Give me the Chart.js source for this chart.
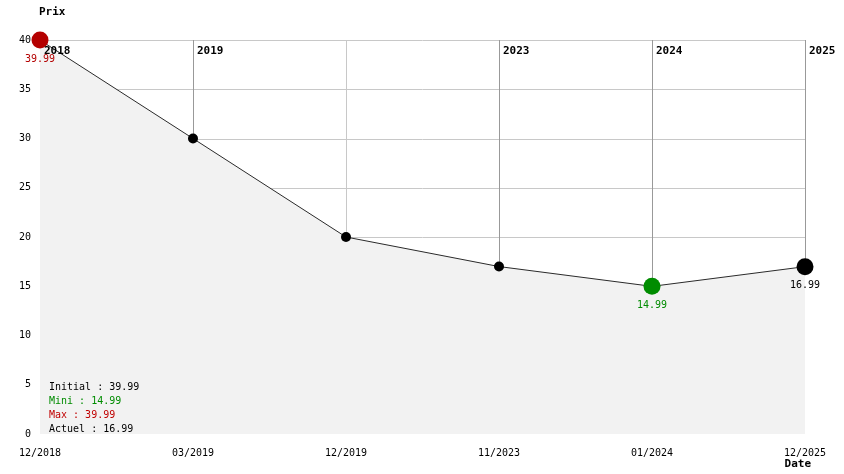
<!DOCTYPE html>
<html>
<head>
<meta charset="utf-8">
<script src="https://cdn.jsdelivr.net/npm/chart.js@4"></script>
<style>
  html, body { margin: 0; padding: 0; background: #fff; }
  #wrap { width: 844px; height: 474px; position: relative; }
</style>
</head>
<body>
<div id="wrap"><canvas id="priceChart"></canvas></div>
<script>
const dates = ['12/2018', '03/2019', '12/2019', '11/2023', '01/2024', '12/2025'];
const prices = [39.99, 30, 20, 17, 14.99, 16.99];
const yearMarks = ['2018', '2019', '', '2023', '2024', '2025'];
const pointLabels = ['39.99', '', '', '', '14.99', '16.99'];
const pointColors = ['#b40000', '#000000', '#000000', '#000000', '#008c00', '#000000'];
const pointSizes = [8.5, 5, 5, 5, 8.5, 8.5];
const summaryLines = ['Initial : 39.99', 'Mini : 14.99', 'Max : 39.99', 'Actuel : 16.99'];
const summaryColors = ['#000000', '#008c00', '#c00000', '#000000'];

const mono = 'DejaVu Sans Mono';

// grid only above the price line, the filled area stays plain
const gridAbove = {
    id: 'gridAbove',
    beforeDatasetsDraw(chart) {
        const ctx = chart.ctx;
        const x = chart.scales.x;
        const y = chart.scales.y;
        const area = chart.chartArea;
        const pts = chart.getDatasetMeta(0).data;
        ctx.save();
        ctx.beginPath();
        ctx.moveTo(area.left - 2, area.top - 2);
        ctx.lineTo(area.left - 2, pts[0].y);
        pts.forEach((p) => ctx.lineTo(p.x, p.y));
        ctx.lineTo(area.right + 2, pts[pts.length - 1].y);
        ctx.lineTo(area.right + 2, area.top - 2);
        ctx.closePath();
        ctx.clip();
        ctx.lineWidth = 1;
        y.ticks.forEach((t) => {
            const py = Math.round(y.getPixelForValue(t.value)) + 0.5;
            ctx.strokeStyle = '#c8c8c8';
            ctx.beginPath();
            ctx.moveTo(area.left, py);
            ctx.lineTo(area.right, py);
            ctx.stroke();
        });
        dates.forEach((d, i) => {
            const px = Math.round(x.getPixelForValue(i)) + 0.5;
            ctx.strokeStyle = yearMarks[i] ? '#999999' : '#c8c8c8';
            ctx.beginPath();
            ctx.moveTo(px, area.top);
            ctx.lineTo(px, area.bottom);
            ctx.stroke();
        });
        ctx.restore();
    }
};

const overlay = {
    id: 'overlay',
    afterDatasetsDraw(chart) {
        const ctx = chart.ctx;
        const x = chart.scales.x;
        const y = chart.scales.y;
        const area = chart.chartArea;
        ctx.save();

        // year markers near the top of the plot
        ctx.font = 'bold 11px ' + mono;
        ctx.fillStyle = '#000';
        ctx.textAlign = 'left';
        ctx.textBaseline = 'middle';
        yearMarks.forEach((t, i) => {
            if (t) ctx.fillText(t, x.getPixelForValue(i) + 4, area.top + 11);
        });

        // values under the notable points
        ctx.font = '10px ' + mono;
        ctx.textAlign = 'center';
        pointLabels.forEach((t, i) => {
            if (!t) return;
            ctx.fillStyle = pointColors[i];
            ctx.fillText(t, x.getPixelForValue(i), y.getPixelForValue(prices[i]) + 19);
        });

        // summary block
        ctx.textAlign = 'left';
        summaryLines.forEach((t, i) => {
            ctx.fillStyle = summaryColors[i];
            ctx.fillText(t, area.left + 9, area.bottom - 47 + i * 14);
        });

        // axis titles
        ctx.font = 'bold 11px ' + mono;
        ctx.fillStyle = '#000';
        ctx.fillText('Prix', 39, 12);
        ctx.textAlign = 'right';
        ctx.fillText('Date', area.right + 6, chart.height - 10);
        ctx.restore();
    }
};

new Chart(document.getElementById('priceChart').getContext('2d'), {
    type: 'line',
    data: {
        labels: dates,
        datasets: [{
            data: prices,
            borderColor: '#2a2a2a',
            borderWidth: 1,
            backgroundColor: '#f2f2f2',
            fill: 'origin',
            tension: 0,
            clip: false,
            pointRadius: pointSizes,
            pointHoverRadius: pointSizes,
            pointBackgroundColor: pointColors,
            pointBorderColor: pointColors,
            pointBorderWidth: 0
        }]
    },
    options: {
        responsive: true,
        maintainAspectRatio: false,
        animation: false,
        layout: { padding: { top: 40, right: 39, left: 0, bottom: 0 } },
        plugins: {
            legend: { display: false },
            tooltip: { enabled: false }
        },
        scales: {
            x: {
                offset: false,
                border: { display: false },
                grid: { drawTicks: false, color: 'rgba(0,0,0,0)' },
                ticks: {
                    color: '#000',
                    padding: 13,
                    maxRotation: 0,
                    autoSkip: false,
                    font: { size: 10, family: mono }
                },
                afterFit: (s) => { s.height = 40; }
            },
            y: {
                min: 0,
                max: 40,
                border: { display: false },
                grid: { drawTicks: false, color: 'rgba(0,0,0,0)' },
                ticks: {
                    stepSize: 5,
                    color: '#000',
                    padding: 9,
                    font: { size: 10, family: mono }
                },
                afterFit: (s) => { s.width = 40; }
            }
        }
    },
    plugins: [gridAbove, overlay]
});
</script>
</body>
</html>
